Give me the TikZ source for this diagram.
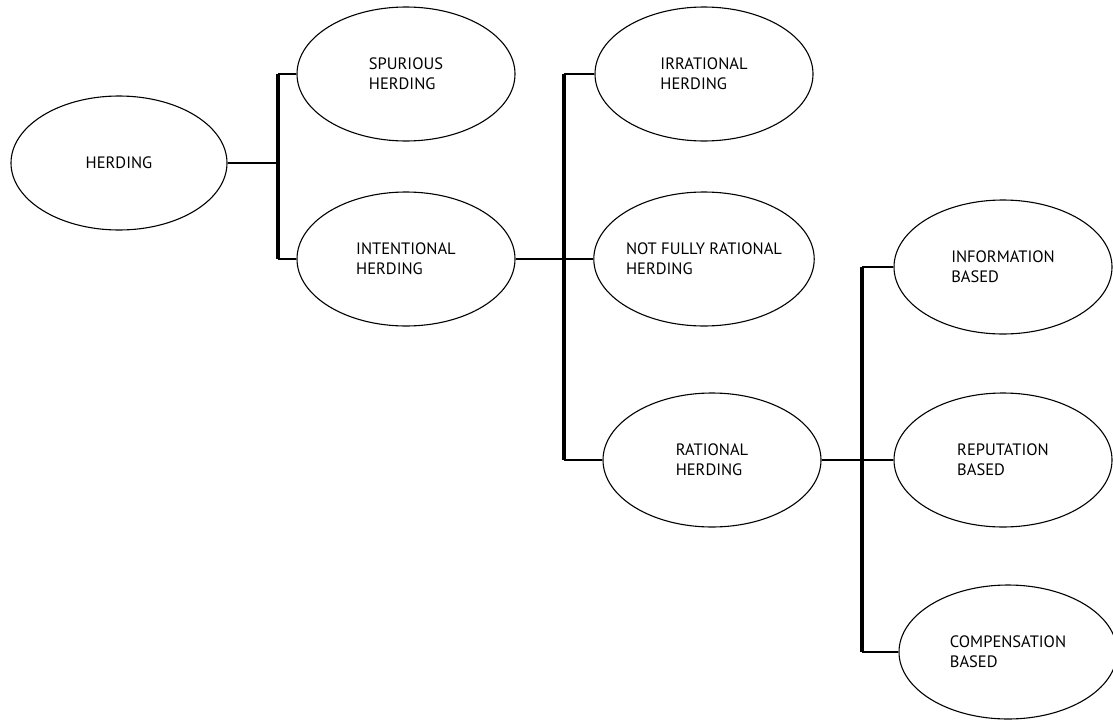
\documentclass[tikz,border=0pt]{standalone}
\usepackage{fontspec}
\setmainfont{PT Sans}
\usetikzlibrary{shapes.geometric}

\begin{document}
\begin{tikzpicture}[x=1pt,y=-1pt,every node/.style={font=\fontsize{16.5}{20}\selectfont},
  oval/.style={draw,ellipse,line width=1.1pt,minimum width=218pt,minimum height=134pt,inner sep=0pt,align=left},
  link/.style={line width=1.3pt},
  bar/.style={line width=3.4pt}]
\useasboundingbox (0,0) rectangle (1113,720);
% ellipses
\node[oval,minimum width=216pt] (herd) at (119,163) {HERDING};
\node[oval] (spur) at (406,74) {SPURIOUS\\HERDING};
\node[oval] (intent) at (406,259) {INTENTIONAL\\HERDING};
\node[oval] (irr) at (704,74) {IRRATIONAL\\HERDING};
\node[oval] (notfull) at (704,259) {NOT FULLY RATIONAL\\HERDING};
\node[oval] (rat) at (712,460) {RATIONAL\\HERDING};
\node[oval] (info) at (1003,267) {INFORMATION\\BASED};
\node[oval] (rep) at (1003,460) {REPUTATION\\BASED};
\node[oval] (comp) at (1008,652) {COMPENSATION\\BASED};
% junction columns
\coordinate (j1) at (278,0);
\coordinate (j2) at (564,0);
\coordinate (j3) at (862,0);
% level 1
\draw[link] (herd.east) -- (herd.east -| j1);
\draw[bar] (spur.west -| j1) -- (intent.west -| j1);
\draw[link] (spur.west -| j1) -- (spur.west);
\draw[link] (intent.west -| j1) -- (intent.west);
% level 2
\draw[link] (intent.east) -- (notfull.west);
\draw[bar] (irr.west -| j2) -- (rat.west -| j2);
\draw[link] (irr.west -| j2) -- (irr.west);
\draw[link] (rat.west -| j2) -- (rat.west);
% level 3
\draw[link] (rat.east) -- (rep.west);
\draw[bar] (info.west -| j3) -- (comp.west -| j3);
\draw[link] (info.west -| j3) -- (info.west);
\draw[link] (comp.west -| j3) -- (comp.west);
\end{tikzpicture}
\end{document}
